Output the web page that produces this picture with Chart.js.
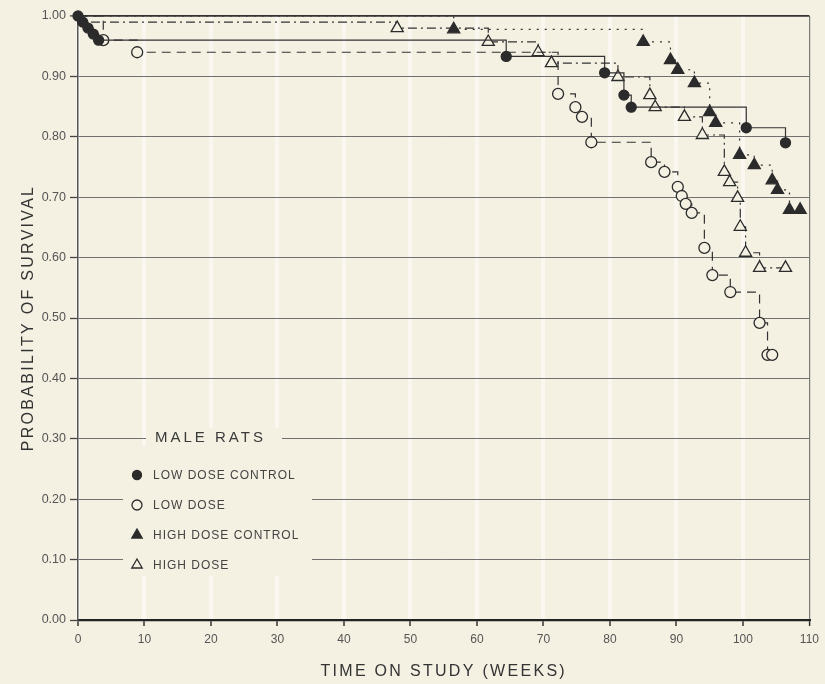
<!DOCTYPE html>
<html>
<head>
<meta charset="utf-8">
<title>Male rats survival</title>
<script src="https://cdn.jsdelivr.net/npm/chart.js@4.4.1/dist/chart.umd.min.js"></script>
<style>
  html, body { margin: 0; padding: 0; background: #f4f0e2; }
  #wrap { width: 825px; height: 684px; position: relative; }
</style>
</head>
<body>
<div id="wrap"><canvas id="c" width="825" height="684"></canvas></div>
<script>
// Kaplan-Meier survival estimates, weeks on study vs probability of survival
const lowDoseControlWeeks = [0, 0.7, 1.5, 2.3, 3.1, 64.4, 79.2, 82.1, 83.2, 100.5, 106.4];
const lowDoseControlSurv  = [1.00, 0.99, 0.98, 0.97, 0.96, 0.933, 0.906, 0.869, 0.849, 0.815, 0.79];

const lowDoseWeeks = [0, 3.8, 8.9, 72.2, 74.8, 75.8, 77.2, 86.2, 88.2, 90.2, 90.8, 91.4, 92.3, 94.2, 95.4, 98.1, 102.5, 103.7, 104.4];
const lowDoseSurv  = [1.00, 0.96, 0.94, 0.871, 0.849, 0.833, 0.791, 0.758, 0.742, 0.717, 0.702, 0.689, 0.674, 0.616, 0.571, 0.543, 0.492, 0.439, 0.439];

const highDoseControlWeeks = [0, 56.5, 85.0, 89.1, 90.2, 92.7, 95.0, 95.9, 99.5, 101.7, 104.4, 105.2, 107.0, 108.6];
const highDoseControlSurv  = [1.00, 0.978, 0.957, 0.927, 0.911, 0.889, 0.841, 0.823, 0.77, 0.753, 0.728, 0.712, 0.679, 0.679];

const highDoseWeeks = [0, 1.3, 48.0, 61.7, 69.2, 71.2, 81.2, 86.0, 86.8, 91.2, 93.9, 97.2, 98.0, 99.2, 99.6, 100.4, 102.5, 106.4];
const highDoseSurv  = [1.00, 0.99, 0.98, 0.957, 0.94, 0.922, 0.899, 0.869, 0.849, 0.833, 0.803, 0.742, 0.725, 0.699, 0.651, 0.608, 0.583, 0.583];

const xTickValues = [0, 10, 20, 30, 40, 50, 60, 70, 80, 90, 100, 110];
const yTickValues = [0, 0.1, 0.2, 0.3, 0.4, 0.5, 0.6, 0.7, 0.8, 0.9, 1.0];

const legendTitle = 'MALE RATS';
const seriesNames = ['LOW DOSE CONTROL', 'LOW DOSE', 'HIGH DOSE CONTROL', 'HIGH DOSE'];
const xAxisTitle = 'TIME ON STUDY (WEEKS)';
const yAxisTitle = 'PROBABILITY OF SURVIVAL';

const PAPER = '#f4f0e2';
const INK = '#2b2b2b';
const FONT = "'Liberation Sans', Arial, Helvetica, sans-serif";

function pairs(xs, ys) { return xs.map((x, i) => ({ x: x, y: ys[i] })); }

// marker look for each series (index matches seriesNames)
const markers = [
  { style: 'circle',   radius: 5,   fill: INK,   hide: 0 },
  { style: 'circle',   radius: 5.5, fill: PAPER, hide: 1 },
  { style: 'triangle', radius: 7,   fill: INK,   hide: 1 },
  { style: 'triangle', radius: 7,   fill: PAPER, hide: 2 }
];
const dashes = [[], [9, 6], [2, 6], [9, 4, 2, 4]];
const seriesData = [
  pairs(lowDoseControlWeeks, lowDoseControlSurv),
  pairs(lowDoseWeeks, lowDoseSurv),
  pairs(highDoseControlWeeks, highDoseControlSurv),
  pairs(highDoseWeeks, highDoseSurv)
];

const datasets = seriesData.map((data, i) => ({
  label: seriesNames[i],
  data: data,
  showLine: true,
  stepped: 'before',
  borderColor: '#333',
  borderWidth: 1.2,
  borderDash: dashes[i],
  pointStyle: markers[i].style,
  pointRadius: c => (c.dataIndex < markers[i].hide ? 0 : markers[i].radius),
  pointBackgroundColor: markers[i].fill,
  pointBorderColor: INK,
  pointBorderWidth: 1.3,
  clip: false
}));

function drawMarker(ctx, m, x, y) {
  ctx.save();
  ctx.fillStyle = m.fill;
  ctx.strokeStyle = INK;
  ctx.lineWidth = 1.3;
  ctx.beginPath();
  if (m.style === 'circle') {
    ctx.arc(x, y, m.radius - 0.5, 0, Math.PI * 2);
  } else {
    const r = m.radius - 1;
    ctx.moveTo(x, y - r);
    ctx.lineTo(x + r * 0.866, y + r * 0.5);
    ctx.lineTo(x - r * 0.866, y + r * 0.5);
    ctx.closePath();
  }
  ctx.fill();
  ctx.stroke();
  ctx.restore();
}

// key panel inside the plot, axis titles
const decor = {
  id: 'decor',
  beforeDatasetsDraw(chart) {
    const ctx = chart.ctx;
    ctx.save();
    ctx.fillStyle = PAPER;
    ctx.fillRect(123, 446, 189, 130);
    ctx.fillRect(146, 428, 136, 20);
    ctx.restore();
  },
  afterDatasetsDraw(chart) {
    const ctx = chart.ctx;
    ctx.save();
    ctx.fillStyle = '#3a3a3a';
    ctx.textBaseline = 'middle';
    ctx.textAlign = 'left';
    ctx.font = '15px ' + FONT;
    ctx.letterSpacing = '3px';
    ctx.fillText(legendTitle, 155, 438);
    ctx.font = '12px ' + FONT;
    ctx.letterSpacing = '1px';
    ctx.fillStyle = '#444';
    const rows = [475, 505, 535, 565];
    seriesNames.forEach((name, i) => {
      drawMarker(ctx, markers[i], 137, rows[i]);
      ctx.fillText(name, 153, rows[i] + 0.5);
    });
    ctx.restore();
  },
  afterDraw(chart) {
    const ctx = chart.ctx;
    const area = chart.chartArea;
    ctx.save();
    ctx.fillStyle = '#333';
    ctx.font = '16px ' + FONT;
    ctx.letterSpacing = '2.3px';
    ctx.textAlign = 'center';
    ctx.textBaseline = 'alphabetic';
    ctx.fillText(xAxisTitle, (area.left + area.right) / 2, 676);
    ctx.translate(33, (area.top + area.bottom) / 2);
    ctx.rotate(-Math.PI / 2);
    ctx.fillText(yAxisTitle, 0, 0);
    ctx.restore();
  }
};

new Chart(document.getElementById('c'), {
  type: 'scatter',
  data: { datasets: datasets },
  options: {
    responsive: false,
    animation: false,
    events: [],
    layout: { padding: { top: 16, right: 13, left: 0, bottom: 0 } },
    plugins: { legend: { display: false }, tooltip: { enabled: false } },
    scales: {
      x: {
        type: 'linear',
        min: 0, max: 110,
        afterBuildTicks: s => { s.ticks = xTickValues.map(v => ({ value: v })); },
        afterFit: s => { s.height = 64; },
        border: { display: true, color: '#222', width: 2.2 },
        grid: {
          drawTicks: true,
          tickLength: 6,
          tickColor: '#333',
          tickWidth: 1.5,
          color: c => (c.tick && c.tick.value === 110 ? '#7a7a7a' : 'rgba(255,255,255,0.45)'),
          lineWidth: c => (c.tick && c.tick.value === 110 ? 1.2 : 4)
        },
        ticks: {
          color: '#555',
          padding: 6,
          font: { family: FONT, size: 12 },
          callback: v => String(v),
          maxRotation: 0
        }
      },
      y: {
        min: 0, max: 1,
        afterBuildTicks: s => { s.ticks = yTickValues.map(v => ({ value: v })); },
        afterFit: s => { s.width = 78; },
        border: { display: true, color: '#555', width: 1.5 },
        grid: {
          tickLength: 8,
          tickColor: '#444',
          tickWidth: 1.3,
          color: c => (c.tick && c.tick.value === 1 ? '#333' : '#707070'),
          lineWidth: c => (c.tick && c.tick.value === 1 ? 1.8 : 1)
        },
        ticks: {
          color: '#555',
          padding: 4,
          font: { family: FONT, size: 12.5 },
          callback: v => Number(v).toFixed(2)
        }
      }
    }
  },
  plugins: [decor]
});
</script>
</body>
</html>
